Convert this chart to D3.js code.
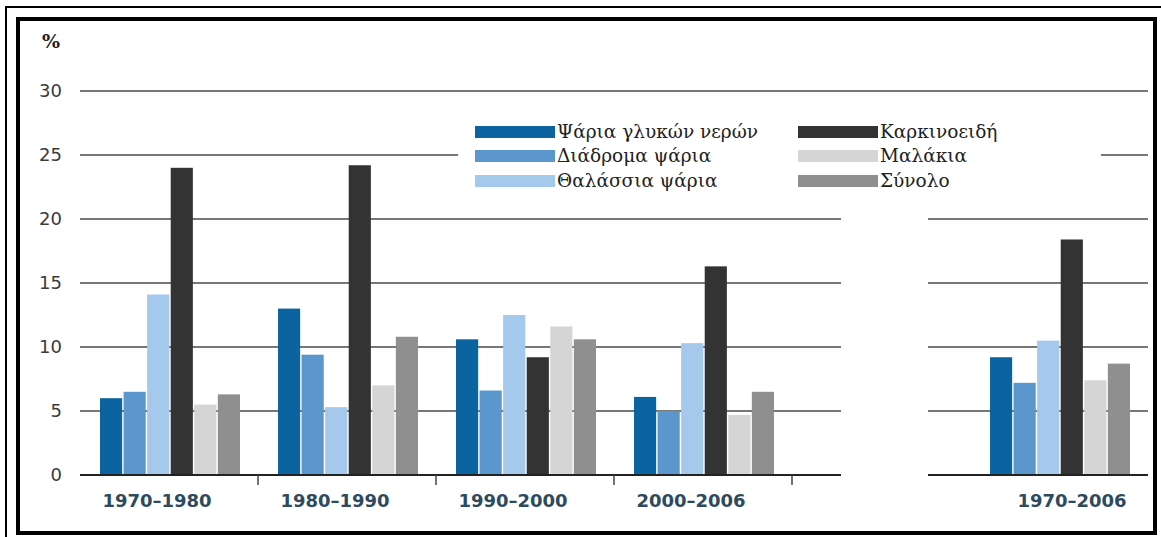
<!DOCTYPE html>
<html>
<head>
<meta charset="utf-8">
<script src="https://cdn.jsdelivr.net/npm/d3@7"></script>
<style>
  html, body { margin: 0; padding: 0; background: #fff; }
  svg { display: block; }
</style>
</head>
<body>
<svg id="chart" width="1161" height="537"></svg>
<script>
// Periods (the empty slot keeps the break before the overall period)
const periods = ["1970–1980", "1980–1990", "1990–2000", "2000–2006", "", "1970–2006"];
const seriesNames = ["Ψάρια γλυκών νερών", "Διάδρομα ψάρια", "Θαλάσσια ψάρια", "Καρκινοειδή", "Μαλάκια", "Σύνολο"];
const seriesColors = ["#0b64a0", "#5b97cc", "#a5c9ec", "#333333", "#d5d5d5", "#8f8f8f"];

// Average annual growth (%) per period, one array per series
const freshwater = [6.0, 13.0, 10.6, 6.1, 9.2];
const diadromous = [6.5, 9.4, 6.6, 5.0, 7.2];
const marine     = [14.1, 5.3, 12.5, 10.3, 10.5];
const crustaceans = [24.0, 24.2, 9.2, 16.3, 18.4];
const molluscs   = [5.5, 7.0, 11.6, 4.7, 7.4];
const total      = [6.3, 10.8, 10.6, 6.5, 8.7];
const yTicks = [0, 5, 10, 15, 20, 25, 30];

const seriesValues = [freshwater, diadromous, marine, crustaceans, molluscs, total];
const dataPeriods = periods.filter(p => p !== "");

const svg = d3.select("#chart");

const x = d3.scaleBand().domain(periods).range([80, 1148]).paddingInner(0).paddingOuter(0);
const xInner = d3.scaleBand().domain(d3.range(seriesNames.length)).range([20, 160]).paddingInner(0.06);
const y = d3.scaleLinear().domain([0, 30]).range([475, 91]);

// Frame
svg.append("path").attr("d", "M6,537 V7 H1161").attr("fill", "none").attr("stroke", "#000").attr("stroke-width", 2);
svg.append("rect").attr("x", 18).attr("y", 19).attr("width", 1137).attr("height", 514)
  .attr("fill", "none").attr("stroke", "#000").attr("stroke-width", 4);

// Gridlines with the break between the two panels
const gridG = svg.append("g");
const breakStart = 841, breakEnd = 928;
yTicks.filter(t => t > 0).forEach(t => {
  const yy = y(t);
  if (t === 30) {
    gridG.append("line").attr("x1", 80).attr("x2", 1148).attr("y1", yy).attr("y2", yy);
  } else {
    gridG.append("line").attr("x1", 80).attr("x2", breakStart).attr("y1", yy).attr("y2", yy);
    gridG.append("line").attr("x1", breakEnd).attr("x2", 1148).attr("y1", yy).attr("y2", yy);
  }
});
gridG.selectAll("line").attr("stroke", "#4a4a4a").attr("stroke-width", 1.5);

// Y tick labels
svg.append("g").selectAll("text").data(yTicks).join("text")
  .attr("x", 62).attr("y", d => y(d)).attr("dy", "0.35em")
  .attr("text-anchor", "end")
  .attr("font-family", "DejaVu Sans, sans-serif").attr("font-size", 18)
  .attr("fill", "#3a3a3a").text(d => d);

svg.append("text").attr("x", 42).attr("y", 48)
  .attr("font-family", "DejaVu Serif, serif").attr("font-size", 19).attr("font-weight", "bold")
  .attr("fill", "#222").text("%");

// Bars
const groups = svg.append("g").selectAll("g").data(dataPeriods).join("g")
  .attr("transform", p => `translate(${x(p)},0)`);
groups.selectAll("rect").data((p, i) => seriesValues.map((s, k) => ({ k, v: s[i] }))).join("rect")
  .attr("x", d => xInner(d.k))
  .attr("width", xInner.bandwidth())
  .attr("y", d => y(d.v))
  .attr("height", d => y(0) - y(d.v))
  .attr("fill", d => seriesColors[d.k]);

// Baseline and group separator ticks
svg.append("line").attr("x1", 80).attr("x2", breakStart).attr("y1", y(0)).attr("y2", y(0))
  .attr("stroke", "#222").attr("stroke-width", 2);
svg.append("line").attr("x1", breakEnd).attr("x2", 1148).attr("y1", y(0)).attr("y2", y(0))
  .attr("stroke", "#222").attr("stroke-width", 2);
svg.append("g").selectAll("line").data(periods.slice(1, 5)).join("line")
  .attr("x1", p => x(p)).attr("x2", p => x(p))
  .attr("y1", y(0)).attr("y2", y(0) + 10)
  .attr("stroke", "#444").attr("stroke-width", 1.5);

// Period labels
svg.append("g").selectAll("text").data(dataPeriods).join("text")
  .attr("x", (p, i) => x(p) + (i === dataPeriods.length - 1 ? 102 : 77))
  .attr("y", 507)
  .attr("text-anchor", "middle")
  .attr("font-family", "DejaVu Sans, sans-serif").attr("font-size", 18).attr("font-weight", "bold")
  .attr("fill", "#2e4a5e").text(p => p);

// Legend
const legend = svg.append("g");
legend.append("rect").attr("x", 458).attr("y", 114).attr("width", 643).attr("height", 80).attr("fill", "#fff");
const legendCols = [475, 798];
const legendRows = [132, 156, 181];
seriesNames.forEach((name, k) => {
  const col = Math.floor(k / 3), row = k % 3;
  const lx = legendCols[col], ly = legendRows[row];
  legend.append("rect").attr("x", lx).attr("y", ly - 6).attr("width", 80).attr("height", 12)
    .attr("fill", seriesColors[k]);
  legend.append("text").attr("x", lx + 82).attr("y", ly).attr("dy", "0.35em")
    .attr("font-family", "DejaVu Serif, serif").attr("font-size", 18.5)
    .attr("fill", "#222").text(name);
});
</script>
</body>
</html>
